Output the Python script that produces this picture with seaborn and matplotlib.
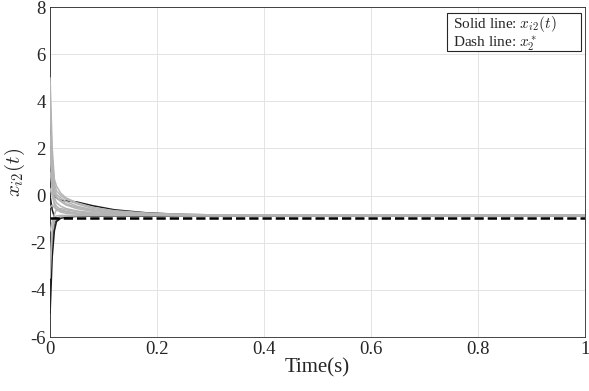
import matplotlib
matplotlib.use("Agg")
import matplotlib.pyplot as plt
import numpy as np
import pandas as pd
import seaborn as sns
from matplotlib.patches import Rectangle

# ============================================================
# DATA
# ============================================================
time = [0, 0.004, 0.008, 0.012, 0.02, 0.03, 0.05, 0.08, 0.12, 0.18, 0.25, 0.35, 0.5, 1.0]

grey_runs = {
    "g1":  [5.0, 2.0, 0.7, 0.4, 0.1, -0.1, -0.3, -0.5, -0.64, -0.74, -0.8, -0.83, -0.84, -0.84],
    "g2":  [3.8, 1.6, 0.5, 0.2, 0.0, -0.15, -0.35, -0.55, -0.67, -0.76, -0.8, -0.83, -0.84, -0.84],
    "g3":  [2.6, 1.2, 0.3, 0.05, -0.1, -0.25, -0.45, -0.6, -0.71, -0.78, -0.81, -0.83, -0.84, -0.84],
    "g4":  [1.8, 0.8, 0.1, -0.1, -0.25, -0.4, -0.55, -0.67, -0.74, -0.79, -0.82, -0.83, -0.84, -0.84],
    "g5":  [1.0, 0.4, -0.1, -0.3, -0.45, -0.55, -0.65, -0.73, -0.78, -0.8, -0.82, -0.83, -0.84, -0.84],
    "g6":  [0.3, 0.0, -0.3, -0.45, -0.6, -0.67, -0.74, -0.78, -0.8, -0.81, -0.82, -0.83, -0.84, -0.84],
    "g7":  [-0.5, -0.4, -0.5, -0.6, -0.7, -0.75, -0.79, -0.8, -0.81, -0.82, -0.83, -0.84, -0.84, -0.84],
    "g8":  [-1.5, -1.1, -0.9, -0.86, -0.84, -0.84, -0.84, -0.84, -0.84, -0.84, -0.84, -0.84, -0.84, -0.84],
    "g9":  [-2.8, -1.6, -1.1, -0.96, -0.9, -0.87, -0.86, -0.85, -0.85, -0.84, -0.84, -0.84, -0.84, -0.84],
    "g10": [-3.5, -1.5, -0.8, -0.6, -0.55, -0.6, -0.68, -0.75, -0.79, -0.81, -0.83, -0.84, -0.84, -0.84],
    "g11": [4.4, 1.0, 0.2, -0.05, -0.2, -0.35, -0.5, -0.63, -0.72, -0.78, -0.82, -0.83, -0.84, -0.84],
    "g12": [2.0, 0.2, -0.4, -0.55, -0.65, -0.7, -0.76, -0.8, -0.81, -0.82, -0.83, -0.84, -0.84, -0.84],
}

black_runs = {
    "b1": [-5.0, -2.6, -1.5, -1.1, -0.96, -0.91, -0.88, -0.86, -0.85, -0.85, -0.84, -0.84, -0.84, -0.84],
    "b2": [-4.0, -1.8, -1.2, -1.0, -0.93, -0.9, -0.87, -0.86, -0.85, -0.85, -0.84, -0.84, -0.84, -0.84],
    "b3": [1.5, 0.6, 0.0, -0.1, -0.2, -0.22, -0.27, -0.43, -0.6, -0.73, -0.8, -0.83, -0.84, -0.84],
    "b4": [0.0, -0.6, -0.9, -0.96, -0.92, -0.89, -0.87, -0.86, -0.85, -0.85, -0.84, -0.84, -0.84, -0.84],
}

ref_time  = [0, 1.0]
ref_value = [-0.94, -0.94]

x_ticks = [0, 0.2, 0.4, 0.6, 0.8, 1]
x_tick_labels = ["0", "0.2", "0.4", "0.6", "0.8", "1"]
y_ticks = [-6, -4, -2, 0, 2, 4, 6, 8]


# ============================================================
# BUILD LONG TABLE
# ============================================================
def to_long(runs):
    rows = []
    for name, vals in runs.items():
        for t, v in zip(time, vals):
            rows.append({"agent": name, "time": t, "value": v})
    return pd.DataFrame(rows)


df_grey  = to_long(grey_runs)
df_black = to_long(black_runs)
df_ref   = pd.DataFrame({"time": ref_time, "value": ref_value})


# ============================================================
# PLOT
# ============================================================
sns.set_style("white")
plt.rcParams["font.family"] = ["Liberation Serif", "DejaVu Serif"]
plt.rcParams["mathtext.fontset"] = "cm"

fig = plt.figure(figsize=(5.89, 3.91), dpi=100)
ax = fig.add_axes([0.085, 0.138, 0.908, 0.844])

sns.lineplot(data=df_black, x="time", y="value", units="agent", estimator=None,
             color="#1a1a1a", lw=1.1, ax=ax, zorder=2)
sns.lineplot(data=df_grey, x="time", y="value", units="agent", estimator=None,
             color="#b4b4b4", lw=1.1, ax=ax, zorder=3)
sns.lineplot(data=df_ref, x="time", y="value", color="black", lw=1.8,
             linestyle="--", ax=ax, zorder=4)

ax.set_xlim(0, 1)
ax.set_ylim(-6, 8)
ax.set_xticks(x_ticks)
ax.set_xticklabels(x_tick_labels)
ax.set_yticks(y_ticks)
ax.set_yticklabels([str(v) for v in y_ticks])
ax.tick_params(direction="in", length=4, width=0.6, colors="#262626",
               labelsize=13.5, labelcolor="#262626", pad=3)
ax.grid(True, color="#e3e3e3", lw=0.7)
ax.set_axisbelow(True)
for sp in ax.spines.values():
    sp.set_color("#262626")
    sp.set_linewidth(0.6)

ax.set_xlabel("Time(s)", fontsize=15, color="#262626", labelpad=0)
ax.set_ylabel("$x_{i2}(t)$", fontsize=15, color="#262626", labelpad=2)

# annotation box (fixed size, like the MATLAB textbox)
ax.add_patch(Rectangle((0.743, 0.867), 0.250, 0.115, transform=ax.transAxes,
                       fc="white", ec="#262626", lw=0.8, zorder=6))
ax.text(0.754, 0.978, "Solid line: $x_{i2}(t)$\nDash line: $x_2^*$",
        transform=ax.transAxes, ha="left", va="top", fontsize=11,
        linespacing=1.0, zorder=7)

fig.savefig("out.png", dpi=100)
